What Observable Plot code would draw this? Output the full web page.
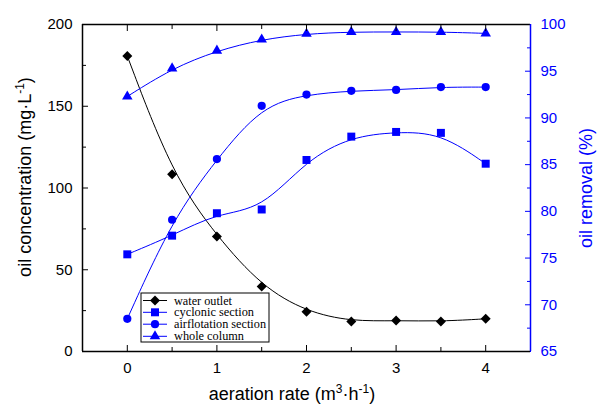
<!DOCTYPE html>
<html><head><meta charset="utf-8">
<script src="https://cdn.jsdelivr.net/npm/d3@7"></script>
<script src="https://cdn.jsdelivr.net/npm/@observablehq/plot@0.6"></script>
<style>body{margin:0;background:#fff}</style>
</head><body><div id="chart"></div>
<script>
const aeration = [0, 0.5, 1, 1.5, 2, 2.5, 3, 3.5, 4];
const waterOutlet = [180.7, 108.4, 70.4, 39.8, 24.3, 18.4, 19.0, 18.4, 20.0];
const cyclonic = [75.4, 77.4, 79.8, 80.2, 85.5, 88.0, 88.5, 88.4, 85.1];
const airflotation = [68.5, 79.1, 85.6, 91.3, 92.5, 92.9, 93.0, 93.3, 93.3];
const wholeColumn = [92.3, 95.3, 97.2, 98.4, 99.0, 99.2, 99.2, 99.2, 99.05];
const seriesNames = ["water outlet", "cyclonic section", "airflotation section", "whole column"];
const seriesSymbols = ["diamond2", "square", "circle", "triangle"];
const xTicks = [0, 1, 2, 3, 4];
const xMinor = [0.5, 1.5, 2.5, 3.5];
const leftTicks = [0, 50, 100, 150, 200];
const leftMinor = [25, 75, 125, 175];
const rightTicks = [65, 70, 75, 80, 85, 90, 95, 100];
const rightMinor = [67.5, 72.5, 77.5, 82.5, 87.5, 92.5, 97.5];

const BLUE = "#0000ff";
const rMin = 65, rMax = 100, cMax = 200;
const toLeft = r => (r - rMin) / (rMax - rMin) * cMax;
const toRight = v => v / cMax * (rMax - rMin) + rMin;

const rows = [];
aeration.forEach((x, i) => {
  rows.push({x, y: waterOutlet[i], s: seriesNames[0]});
  rows.push({x, y: toLeft(cyclonic[i]), s: seriesNames[1]});
  rows.push({x, y: toLeft(airflotation[i]), s: seriesNames[2]});
  rows.push({x, y: toLeft(wholeColumn[i]), s: seriesNames[3]});
});
const colorOf = s => s === seriesNames[0] ? "black" : BLUE;
const rOf = {"diamond2": 4.5, "square": 4.5, "circle": 4.1, "triangle": 3.9};

const marks = [];
seriesNames.forEach((name, k) => {
  const d = rows.filter(r => r.s === name);
  marks.push(Plot.line(d, {x: "x", y: "y", curve: "basis", stroke: colorOf(name), strokeWidth: 1}));
});
seriesNames.forEach((name, k) => {
  const d = rows.filter(r => r.s === name);
  marks.push(Plot.dot(d, {x: "x", y: "y", symbol: () => seriesSymbols[k], r: rOf[seriesSymbols[k]], fill: colorOf(name), stroke: "none"}));
});

const tickFont = {fontSize: 15, label: null};
const chart = Plot.plot({
  width: 597, height: 406,
  marginLeft: 82, marginRight: 67, marginTop: 24, marginBottom: 55,
  style: {fontFamily: "'Liberation Sans', Arial, sans-serif", background: "white", overflow: "visible"},
  x: {domain: [-0.5, 4.5], label: null},
  y: {domain: [0, 200], label: null},
  symbol: {type: "identity"},
  marks: [
    ...marks,
    Plot.axisX(xTicks, {anchor: "bottom", tickSize: -6, tickPadding: 17, ...tickFont, stroke: "black", color: "black"}),
    Plot.axisX(xMinor, {anchor: "bottom", tickSize: -4, tickFormat: () => "", label: null}),
    Plot.axisX(xTicks, {anchor: "top", tickSize: -6, tickFormat: () => "", label: null}),
    Plot.axisX(xMinor, {anchor: "top", tickSize: -4, tickFormat: () => "", label: null}),
    Plot.axisY(leftTicks, {anchor: "left", tickSize: -6, tickPadding: 16, ...tickFont}),
    Plot.axisY(leftMinor, {anchor: "left", tickSize: -4, tickFormat: () => "", label: null}),
    Plot.axisY(rightTicks.map(toLeft), {anchor: "right", tickSize: -6, tickPadding: 16, ...tickFont, color: BLUE, tickFormat: v => String(Math.round(toRight(v)))}),
    Plot.axisY(rightMinor.map(toLeft), {anchor: "right", tickSize: -4, tickFormat: () => "", label: null, color: BLUE}),
    Plot.ruleY([0, 200], {stroke: "black", strokeWidth: 1.5}),
    Plot.ruleX([-0.5], {stroke: "black", strokeWidth: 1.5}),
    Plot.ruleX([4.5], {stroke: BLUE, strokeWidth: 1.5})
  ]
});
document.getElementById("chart").appendChild(chart);

const svg = d3.select(chart);
const titleFont = "'Liberation Sans', Arial, sans-serif";
// x title
const xt = svg.append("text").attr("x", 292).attr("y", 400).attr("text-anchor", "middle")
  .attr("font-family", titleFont).attr("font-size", 18).attr("fill", "black");
xt.append("tspan").text("aeration rate (m");
xt.append("tspan").attr("dy", -7).attr("font-size", 12).text("3");
xt.append("tspan").attr("dy", 7).text("·h");
xt.append("tspan").attr("dy", -7).attr("font-size", 12).text("-1");
xt.append("tspan").attr("dy", 7).text(")");
// left title
const lt = svg.append("text").attr("transform", "translate(31,177) rotate(-90)").attr("text-anchor", "middle")
  .attr("font-family", titleFont).attr("font-size", 18).attr("fill", "black");
lt.append("tspan").text("oil concentration (mg·L");
lt.append("tspan").attr("dy", -7).attr("font-size", 12).text("-1");
lt.append("tspan").attr("dy", 7).text(")");
// right title
svg.append("text").attr("transform", "translate(592,188) rotate(-90)").attr("text-anchor", "middle")
  .attr("font-family", titleFont).attr("font-size", 18).attr("fill", BLUE).text("oil removal (%)");

// legend
const lg = svg.append("g");
lg.append("rect").attr("x", 141).attr("y", 293).attr("width", 128).attr("height", 49)
  .attr("fill", "white").attr("stroke", "black").attr("stroke-width", 1);
const legendY = [300.5, 312.3, 324.2, 336.3];
const legendLen = [58, 80, 92, 70];
const d3Sym = {"diamond2": d3.symbolDiamond2, "square": d3.symbolSquare, "circle": d3.symbolCircle, "triangle": d3.symbolTriangle};
seriesNames.forEach((name, k) => {
  const y = legendY[k];
  const c = k === 0 ? "black" : BLUE;
  lg.append("line").attr("x1", 143).attr("x2", 167).attr("y1", y).attr("y2", y).attr("stroke", c).attr("stroke-width", 1);
  const sym = seriesSymbols[k];
  const size = Math.PI * rOf[sym] * rOf[sym];
  lg.append("path").attr("transform", `translate(155,${y})`).attr("d", d3.symbol(d3Sym[sym], size)()).attr("fill", c);
  lg.append("text").attr("x", 174).attr("y", y + 4).attr("text-anchor", "start")
    .attr("font-family", "'Liberation Serif', 'Times New Roman', serif")
    .attr("font-size", 13).attr("fill", "black").attr("textLength", legendLen[k]).attr("lengthAdjust", "spacingAndGlyphs").text(name);
});
</script>
</body></html>
